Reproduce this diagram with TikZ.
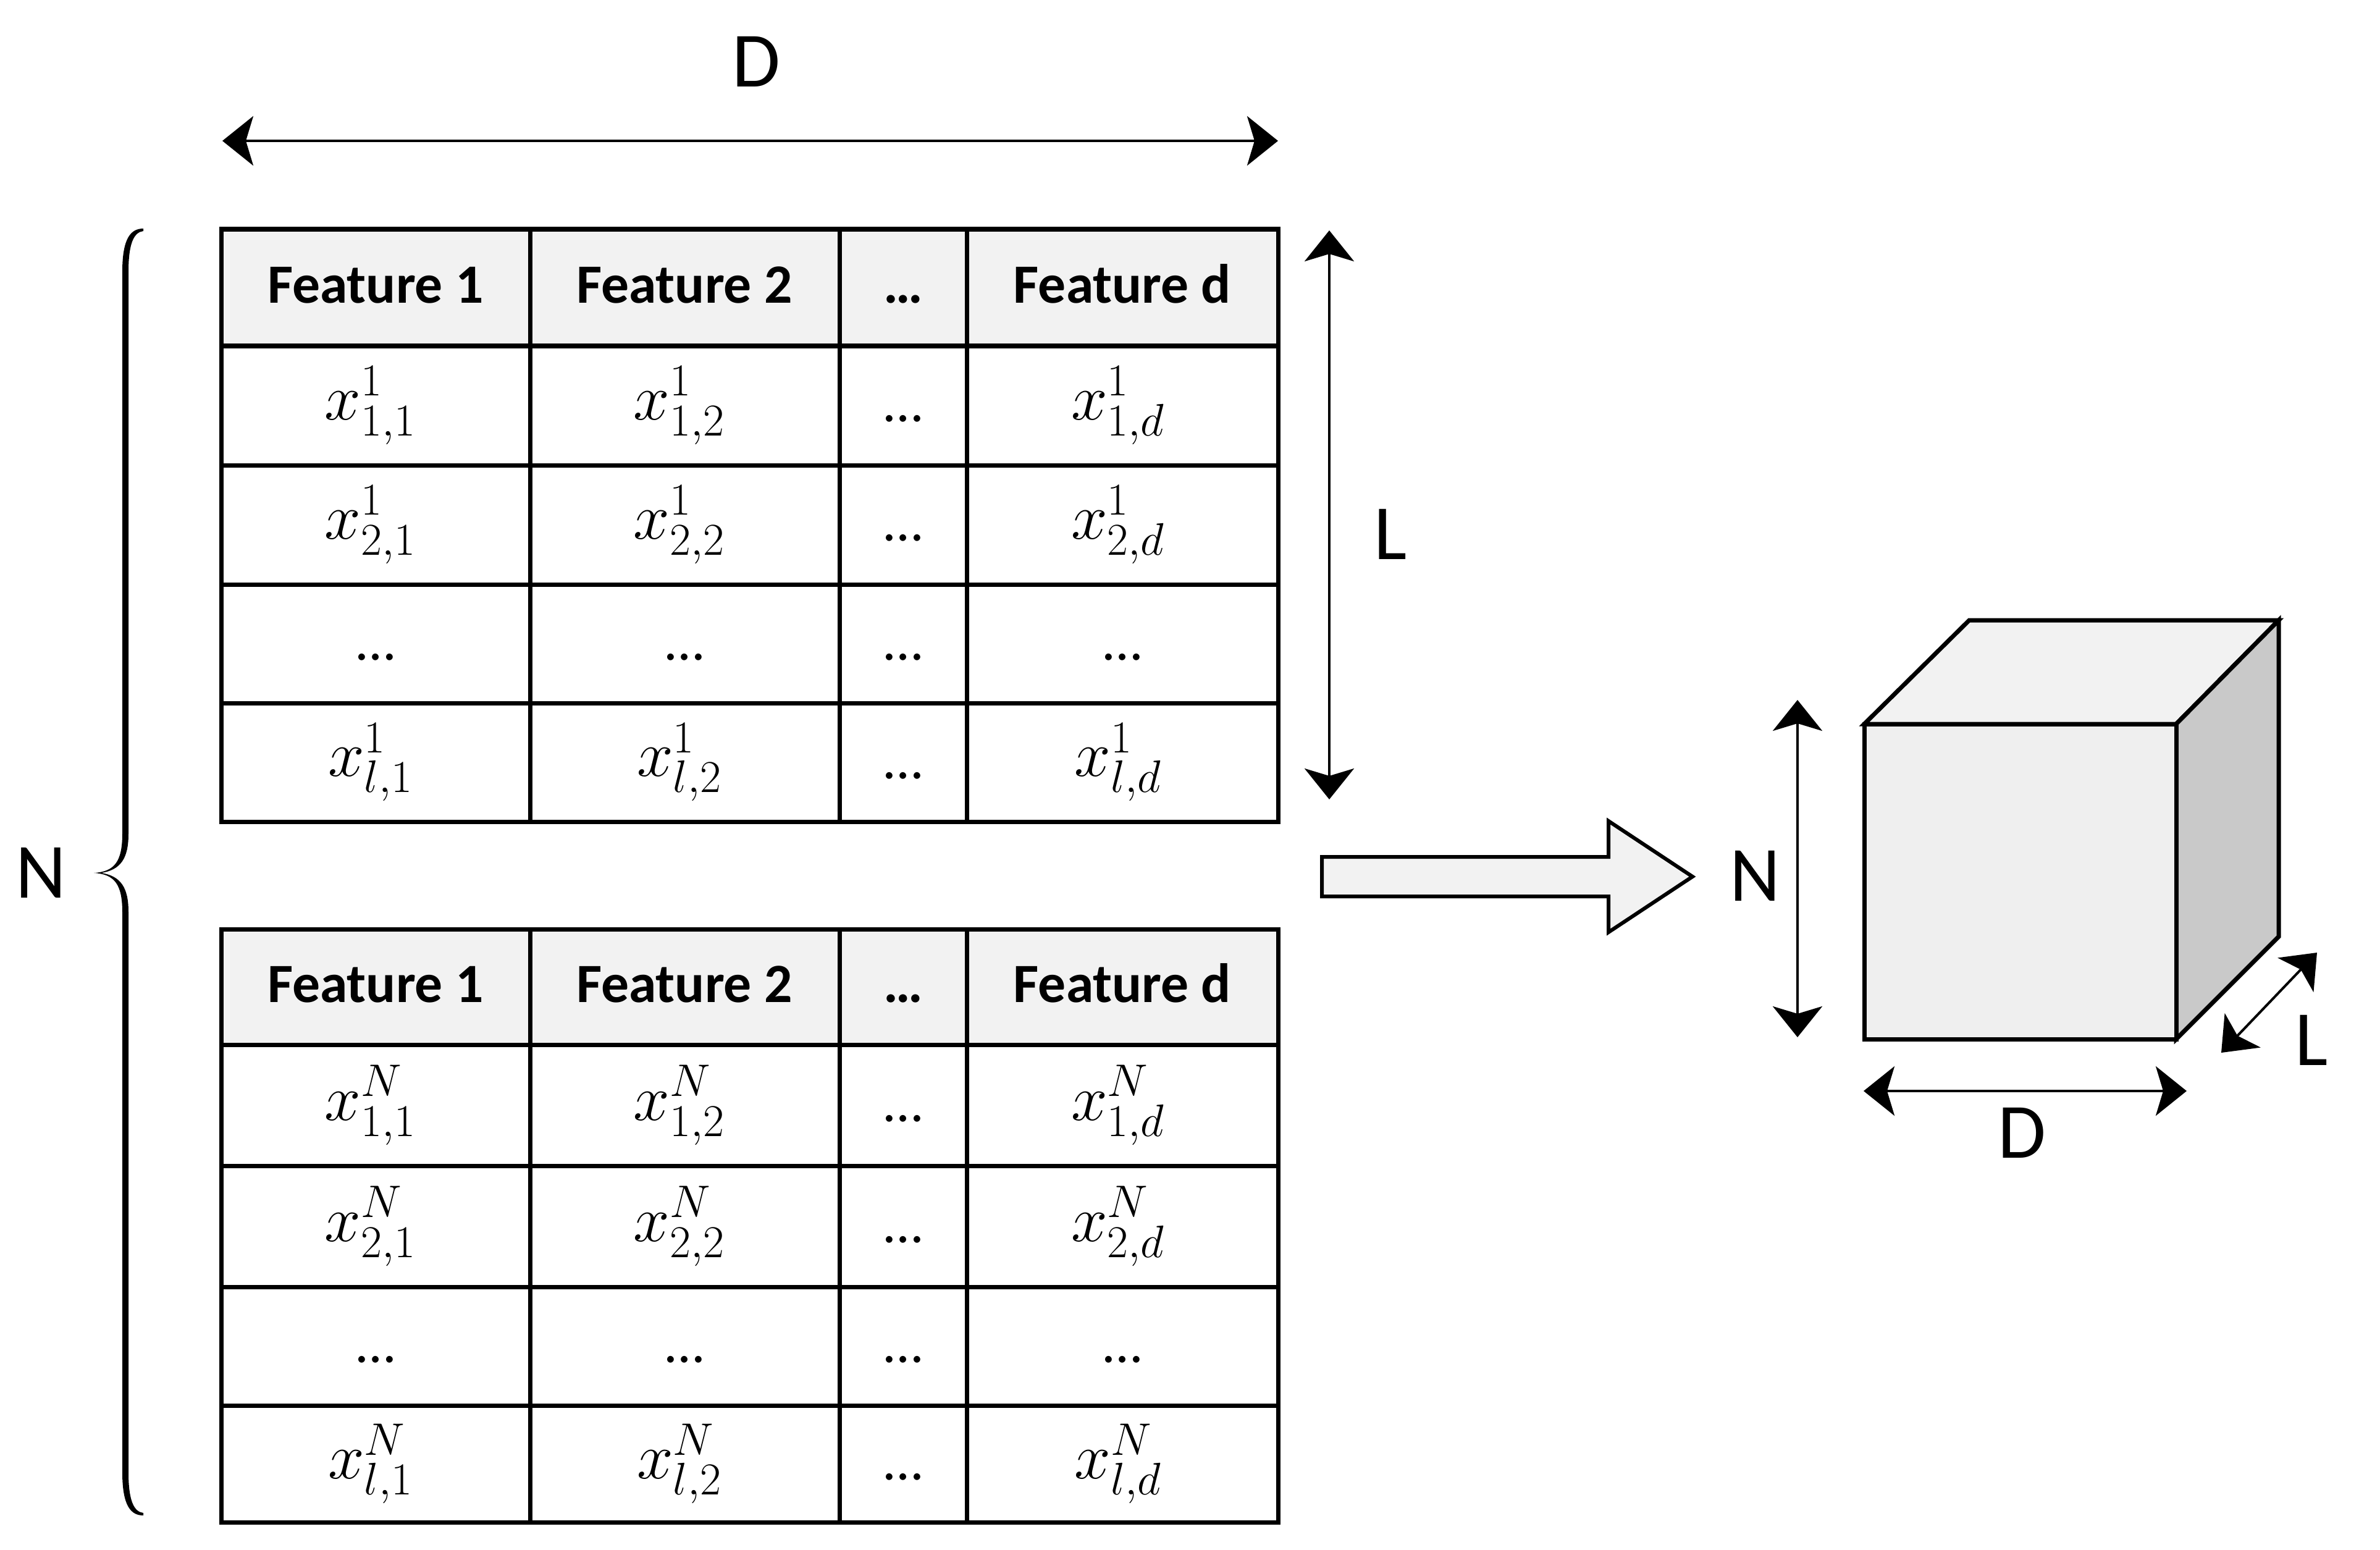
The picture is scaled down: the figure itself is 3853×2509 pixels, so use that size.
\RequirePackage{fix-cm}
\documentclass[tikz,border=0pt]{standalone}
\usepackage{fontspec}
\setmainfont{Carlito}
\usetikzlibrary{arrows.meta}
\definecolor{hdrgray}{HTML}{F2F2F2}
\definecolor{facegray}{HTML}{EFEFEF}
\definecolor{sidegray}{HTML}{C9C9C9}
\tikzset{
  gridline/.style={line width=0.07cm, line cap=rect},
  hdrfill/.style={fill=hdrgray},
  hdr/.style={font=\fontsize{25.5}{30}\selectfont\bfseries, text height=0.49cm, text depth=0pt, inner sep=0pt},
  ell/.style={font=\fontsize{25.5}{30}\selectfont, text height=0.52cm, text depth=0pt, inner sep=0pt},
  mth/.style={font=\fontsize{30}{34}\selectfont, inner sep=0pt},
  lbl/.style={font=\fontsize{36}{42}\selectfont, inner sep=0pt},
  dimarrow/.style={line width=0.04cm, {Stealth[length=0.5cm,width=0.8cm,inset=0.12cm]}-{Stealth[length=0.5cm,width=0.8cm,inset=0.12cm]}},
  cubeline/.style={line width=0.07cm, line join=miter},
  blockarrow/.style={line width=0.06cm, fill=hdrgray, line join=miter}
}
\newcommand\mktable[8]{%
  \pgfmathsetmacro\tyH{(#3+#4)/2}%
  \pgfmathsetmacro\tyA{(#4+#5)/2}%
  \pgfmathsetmacro\tyB{(#5+#6)/2}%
  \pgfmathsetmacro\tyC{(#6+#7)/2}%
  \pgfmathsetmacro\tyD{(#7+#8)/2}%
  \fill[hdrfill] (358,#3) rectangle (2069,#4);
  \foreach \yy in {#3,#4,#5,#6,#7,#8} \draw[gridline] (358,\yy) -- (2069,\yy);
  \foreach \xx in {358,858,1359,1565,2069} \draw[gridline] (\xx,#3) -- (\xx,#8);
  \node[hdr] (#1h1) at (608,\tyH) {Feature 1};
  \node[hdr] (#1h2) at (1108,\tyH) {Feature 2};
  \node[hdr] (#1h3) at (1462,\tyH) {…};
  \node[hdr] (#1h4) at (1817,\tyH) {Feature d};
  \node[mth] (#1a1) at (600,\tyA) {$x^{#2}_{1,1}$};
  \node[mth] (#1a2) at (1100,\tyA) {$x^{#2}_{1,2}$};
  \node[ell] (#1a3) at (1462,\tyA) {…};
  \node[mth] (#1a4) at (1810,\tyA) {$x^{#2}_{1,d}$};
  \node[mth] (#1b1) at (600,\tyB) {$x^{#2}_{2,1}$};
  \node[mth] (#1b2) at (1100,\tyB) {$x^{#2}_{2,2}$};
  \node[ell] (#1b3) at (1462,\tyB) {…};
  \node[mth] (#1b4) at (1810,\tyB) {$x^{#2}_{2,d}$};
  \node[ell] (#1c1) at (608,\tyC) {…};
  \node[ell] (#1c2) at (1108,\tyC) {…};
  \node[ell] (#1c3) at (1462,\tyC) {…};
  \node[ell] (#1c4) at (1817,\tyC) {…};
  \node[mth] (#1d1) at (600,\tyD) {$x^{#2}_{l,1}$};
  \node[mth] (#1d2) at (1100,\tyD) {$x^{#2}_{l,2}$};
  \node[ell] (#1d3) at (1462,\tyD) {…};
  \node[mth] (#1d4) at (1810,\tyD) {$x^{#2}_{l,d}$};
}
\begin{document}
\begin{tikzpicture}[x=0.01cm, y=-0.01cm]
\useasboundingbox (0,0) rectangle (3853,2509);

% tables
\mktable{ta}{1}{371}{560}{753}{946}{1138}{1330}
\mktable{tb}{N}{1504}{1691}{1887}{2083}{2275}{2464}

% top D dimension
\coordinate (dL) at (360,228);
\coordinate (dR) at (2069,228);
\draw[dimarrow] (dL) -- (dR);
\node[lbl] (Dtop) at (1224,100) {D};

% L dimension of table
\coordinate (lT) at (2152,373);
\coordinate (lB) at (2152,1294);
\draw[dimarrow] (lT) -- (lB);
\node[lbl] (Ltab) at (2251,865) {L};

% brace
\fill (232,370) .. controls (212,370) and (198,385) .. (198,440)
  -- (198,1350) .. controls (198,1395) and (185,1411) .. (152,1413)
  .. controls (185,1415) and (198,1431) .. (198,1476)
  -- (198,2383) .. controls (198,2438) and (212,2453) .. (232,2453)
  -- (232,2449) .. controls (217,2447) and (208,2430) .. (208,2383)
  -- (208,1476) .. controls (208,1436) and (195,1418) .. (164,1413)
  .. controls (195,1408) and (208,1390) .. (208,1350)
  -- (208,440) .. controls (208,393) and (217,376) .. (232,374) -- cycle;
\node[lbl] (Nleft) at (66,1413) {N};

% block arrow
\draw[blockarrow] (2140,1387) -- (2604,1387) -- (2604,1329) -- (2740,1419)
  -- (2604,1509) -- (2604,1451) -- (2140,1451) -- cycle;

% cube
\draw[cubeline, fill=hdrgray] (3018,1172) -- (3188,1004) -- (3689,1004) -- (3523,1172) -- cycle;
\draw[cubeline, fill=sidegray] (3523,1172) -- (3689,1004) -- (3689,1516) -- (3523,1682) -- cycle;
\draw[cubeline, fill=facegray] (3018,1172) rectangle (3523,1682);

% cube dimensions
\coordinate (nT) at (2910,1133);
\coordinate (nB) at (2910,1679);
\draw[dimarrow] (nT) -- (nB);
\node[lbl] (Ncube) at (2841,1418) {N};

\coordinate (cdL) at (3017,1766);
\coordinate (cdR) at (3540,1766);
\draw[dimarrow] (cdL) -- (cdR);
\node[lbl] (Dcube) at (3273,1834) {D};

\coordinate (clA) at (3596,1704);
\coordinate (clB) at (3751,1542);
\draw[dimarrow] (clA) -- (clB);
\node[lbl] (Lcube) at (3742,1684) {L};
\end{tikzpicture}
\end{document}
